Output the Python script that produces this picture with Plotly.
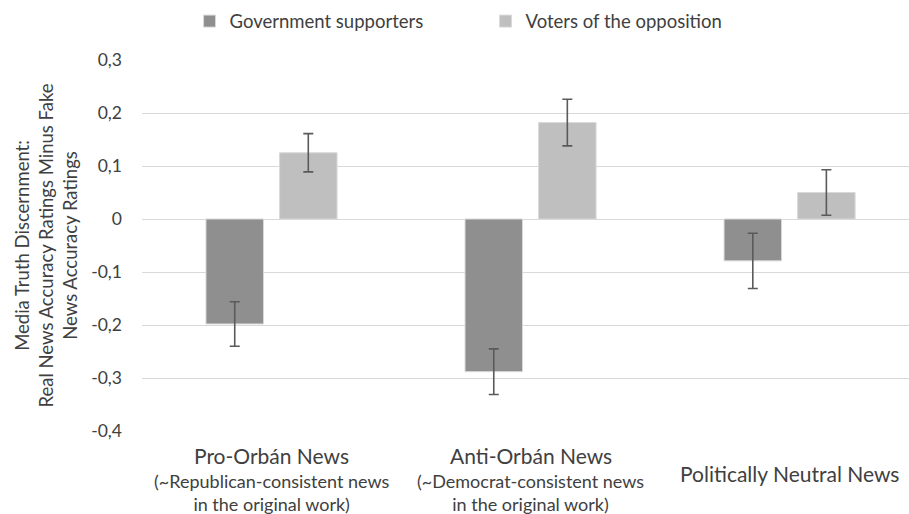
import plotly.graph_objects as go

# Data
categories = ["Pro-Orbán News", "Anti-Orbán News", "Politically Neutral News"]
sublabels = ["(~Republican-consistent news<br>in the original work)",
             "(~Democrat-consistent news<br>in the original work)",
             ""]
gov_values = [-0.198, -0.288, -0.079]
gov_errors = [0.042, 0.043, 0.052]
opp_values = [0.125, 0.182, 0.050]
opp_errors = [0.036, 0.044, 0.043]
series_names = ["Government supporters", "Voters of the opposition"]
y_ticks = [-0.4, -0.3, -0.2, -0.1, 0, 0.1, 0.2, 0.3]
y_ticktext = ["-0,4", "-0,3", "-0,2", "-0,1", "0", "0,1", "0,2", "0,3"]

FONT = "Lato"
TXT = "#404040"
GOV = "#8f8f8f"
OPP = "#bfbfbf"
ERR = "#5a5a5a"

fig = go.Figure()
fig.add_trace(go.Bar(
    x=categories, y=gov_values, name=series_names[0],
    marker=dict(color=GOV, line=dict(color="#d9d9d9", width=1)),
    width=0.222, offset=-0.253,
    error_y=dict(type="data", array=gov_errors, color=ERR, thickness=1.6, width=5),
))
fig.add_trace(go.Bar(
    x=categories, y=opp_values, name=series_names[1],
    marker=dict(color=OPP, line=dict(color="#d9d9d9", width=1)),
    width=0.222, offset=0.031,
    error_y=dict(type="data", array=opp_errors, color=ERR, thickness=1.6, width=5),
))

# Category labels below the plot
for cat, sub in zip(categories, sublabels):
    if sub:
        fig.add_annotation(x=cat, xref="x", y=-0.028, yref="paper", yanchor="top",
                           text=cat, showarrow=False,
                           font=dict(family=FONT, size=21, color=TXT))
        fig.add_annotation(x=cat, xref="x", y=-0.1, yref="paper", yanchor="top",
                           text=sub, showarrow=False,
                           font=dict(family=FONT, size=18, color=TXT))
    else:
        fig.add_annotation(x=cat, xref="x", y=-0.115, yref="paper", yanchor="middle",
                           text=cat, showarrow=False,
                           font=dict(family=FONT, size=21, color=TXT))

fig.update_layout(
    width=909, height=514,
    margin=dict(l=142, r=0, t=60, b=83),
    paper_bgcolor="white", plot_bgcolor="white",
    barmode="overlay",
    font=dict(family=FONT, size=17, color=TXT),
    showlegend=True,
    legend=dict(orientation="h", x=0.062, xanchor="left",
                y=0.958, yref="container", yanchor="middle",
                font=dict(family=FONT, size=18.5, color=TXT),
                itemwidth=30, traceorder="normal", entrywidth=251,
                bgcolor="rgba(0,0,0,0)"),
    xaxis=dict(range=[-0.5, 2.461], showticklabels=False, showgrid=False,
               zeroline=False, showline=False),
    yaxis=dict(range=[-0.4, 0.3], tickvals=y_ticks, ticktext=y_ticktext,
               showgrid=True, gridcolor="#d9d9d9", gridwidth=1.3,
               zeroline=True, zerolinecolor="#d9d9d9", zerolinewidth=1.3,
               showline=False, ticks="", ticklabelstandoff=19,
               tickfont=dict(family=FONT, size=17.5, color=TXT),
               title=dict(text="Media Truth Discernment:<br>Real News Accuracy Ratings Minus Fake<br>News Accuracy Ratings",
                          font=dict(family=FONT, size=18.5, color=TXT), standoff=8)),
)

fig.write_html("out.html")
